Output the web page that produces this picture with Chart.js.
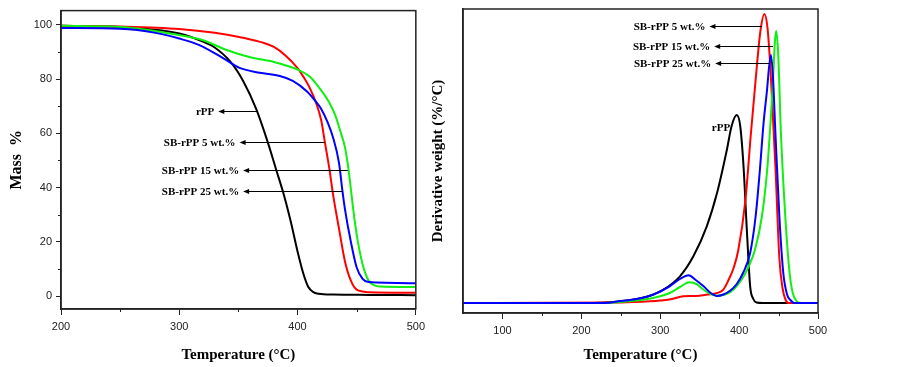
<!DOCTYPE html>
<html>
<head>
<meta charset="utf-8">
<title>TGA / DTG of rPP and SB-rPP</title>
<script src="https://cdn.jsdelivr.net/npm/chart.js@4.4.1/dist/chart.umd.min.js"></script>
<style>
  html, body { margin: 0; padding: 0; background: #fff; }
  #wrap { position: relative; width: 902px; height: 367px; overflow: hidden; }
  #tga { position: absolute; left: 0; top: 0; }
  #dtg { position: absolute; left: 430px; top: 0; }
</style>
</head>
<body>
<div id="wrap">
  <canvas id="tga" width="430" height="367"></canvas>
  <canvas id="dtg" width="472" height="367"></canvas>
</div>
<script>
// series names (same order in both panels)
const seriesNames = ['rPP', 'SB-rPP 5 wt.%', 'SB-rPP 15 wt.%', 'SB-rPP 25 wt.%'];
const seriesColors = ['#000000', '#ff0000', '#11ee11', '#0000ff'];

// ---- left panel: TGA, mass % vs temperature ----
const tgaTempRpp = [200, 250, 300, 320, 329, 343, 354, 365, 375, 382, 388, 394, 400, 405, 409, 413, 418, 430, 460, 500];
const tgaMassRpp = [99.6, 99.2, 96.8, 93.8, 91.9, 86.5, 79.3, 69, 56.5, 46.5, 38, 28, 16.5, 8.2, 3.5, 1.6, 0.9, 0.6, 0.5, 0.4];

const tgaTemp5 = [200, 250, 300, 330, 357, 370, 380, 390, 400, 405, 410, 416, 420, 423, 427, 430, 435, 440, 445, 450, 460, 500];
const tgaMass5 = [99.6, 99.3, 98.4, 97, 94.9, 93.5, 91.8, 88.6, 84, 80.8, 77, 70.8, 64.8, 57, 46.7, 37.5, 25, 13, 5.8, 2.4, 1.5, 1.3];

const tgaTemp15 = [200, 250, 300, 320, 340, 360, 380, 400, 410, 420, 427, 432, 436, 440, 443, 447, 450, 455, 460, 465, 470, 500];
const tgaMass15 = [99.6, 99.2, 96.2, 94.3, 90.7, 88, 86.3, 83.5, 81, 75.8, 71.2, 66.5, 61, 55, 47, 32.3, 22.7, 11.8, 5.8, 4, 3.6, 3.4];

const tgaTemp25 = [200, 250, 280, 300, 317, 337, 351, 368, 385, 396, 408, 416, 420, 425, 430, 435, 438, 440, 445, 450, 455, 460, 500];
const tgaMass25 = [98.8, 98.5, 97, 94.9, 92.5, 87.7, 84.1, 82.3, 81.1, 79.3, 75.4, 71.4, 69, 64.5, 58.5, 49.2, 38.6, 32.3, 20.2, 10.6, 6.4, 5.2, 4.8];

const tgaXTicks = [200, 300, 400, 500];
const tgaXMinor = [250, 350, 450];
const tgaYTicks = [0, 20, 40, 60, 80, 100];
const tgaYMinor = [10, 30, 50, 70, 90];

// ---- right panel: DTG, derivative weight vs temperature ----
const dtgTempRpp = [50, 200, 230, 250, 270, 287, 304, 325, 342, 359, 372, 384.5, 390.5, 397, 401.4, 405.6, 410, 414, 418, 422, 430, 500];
const dtgRateRpp = [0, 0, 0.005, 0.017, 0.04, 0.073, 0.133, 0.267, 0.467, 0.767, 1.1, 1.533, 1.77, 1.88, 1.77, 1.367, 0.7, 0.167, 0.04, 0.005, 0, 0];

const dtgTemp5 = [50, 250, 287, 300, 315, 329, 345, 360, 372, 380, 386, 393, 399, 408, 415, 422.5, 427, 432, 436, 440, 446, 451, 455, 459, 463, 500];
const dtgRate5 = [0, 0.005, 0.017, 0.025, 0.04, 0.067, 0.07, 0.085, 0.1, 0.133, 0.22, 0.35, 0.53, 1.03, 1.7, 2.37, 2.72, 2.89, 2.75, 2.3, 1.37, 0.45, 0.15, 0.03, 0, 0];

const dtgTemp15 = [50, 230, 250, 270, 291, 312, 325, 337, 346, 355, 364, 372, 380, 389, 398, 406, 414, 420, 429, 436, 441.6, 447, 449.5, 453, 458.5, 464, 468, 473, 478, 500];
const dtgRate15 = [0, 0, 0.01, 0.025, 0.05, 0.1, 0.16, 0.207, 0.19, 0.133, 0.09, 0.073, 0.08, 0.11, 0.18, 0.27, 0.4, 0.53, 0.87, 1.37, 2.03, 2.72, 2.5, 1.7, 0.87, 0.3, 0.1, 0.017, 0, 0];

const dtgTemp25 = [50, 230, 250, 270, 291, 312, 325, 336, 345, 355, 364, 372, 380, 389, 397, 405, 414, 421, 426, 431, 435, 440.3, 443, 446, 451, 456, 461, 465, 470, 500];
const dtgRate25 = [0, 0, 0.02, 0.04, 0.083, 0.167, 0.24, 0.277, 0.23, 0.167, 0.1, 0.07, 0.085, 0.125, 0.19, 0.3, 0.5, 0.87, 1.3, 1.8, 2.1, 2.48, 2.25, 1.7, 0.87, 0.3, 0.08, 0.03, 0, 0];

const dtgXTicks = [100, 200, 300, 400, 500];
const dtgXMinor = [150, 250, 350, 450];

// label + arrow callouts (data coordinates)
const tgaNotes = [
  { text: seriesNames[0], y: 68.3, from: 366.5, to: 333 },
  { text: seriesNames[1], y: 56.7, from: 423, to: 351 },
  { text: seriesNames[2], y: 46.6, from: 442.5, to: 354 },
  { text: seriesNames[3], y: 38.7, from: 438.3, to: 354 }
];
const dtgNotes = [
  { text: seriesNames[1], y: 2.766, from: 428.9, to: 362.4 },
  { text: seriesNames[2], y: 2.566, from: 442.9, to: 368.4 },
  { text: seriesNames[3], y: 2.40, from: 438.6, to: 369.7 },
  { text: seriesNames[0], y: 1.75, at: 377 }
];

const AXIS = '#222';
const SANS = '"Liberation Sans", Arial, sans-serif';
const SERIF = '"Liberation Serif", "Times New Roman", serif';

function pts(xs, ys) {
  return xs.map((x, i) => ({ x: x, y: ys[i] }));
}

function makeSets(pairs) {
  return pairs.map((p, i) => ({
    label: seriesNames[i],
    data: pts(p[0], p[1]),
    borderColor: seriesColors[i],
    borderWidth: 2,
    pointRadius: 0,
    fill: false,
    cubicInterpolationMode: 'monotone',
    order: 3 - i
  }));
}

// box round the plot area
const framePlugin = {
  id: 'frame',
  afterDraw(chart) {
    const { ctx, chartArea: a } = chart;
    ctx.save();
    ctx.strokeStyle = AXIS;
    ctx.lineWidth = 1.5;
    ctx.strokeRect(a.left, a.top, a.right - a.left, a.bottom - a.top);
    ctx.restore();
  }
};

// short unlabeled ticks between the labeled ones
const minorTickPlugin = {
  id: 'minorTicks',
  afterDraw(chart, args, opts) {
    const { ctx, chartArea: a, scales } = chart;
    ctx.save();
    ctx.strokeStyle = AXIS;
    ctx.lineWidth = 1;
    (opts.x || []).forEach(v => {
      const px = Math.round(scales.x.getPixelForValue(v)) + 0.5;
      ctx.beginPath();
      ctx.moveTo(px, a.bottom);
      ctx.lineTo(px, a.bottom + opts.len);
      ctx.stroke();
    });
    (opts.y || []).forEach(v => {
      const py = Math.round(scales.y.getPixelForValue(v)) + 0.5;
      ctx.beginPath();
      ctx.moveTo(a.left, py);
      ctx.lineTo(a.left - opts.len, py);
      ctx.stroke();
    });
    ctx.restore();
  }
};

// series labels with arrows pointing at the curves
const notePlugin = {
  id: 'notes',
  afterDatasetsDraw(chart, args, opts) {
    const { ctx, scales } = chart;
    ctx.save();
    ctx.font = 'bold 11px ' + SERIF;
    ctx.fillStyle = '#000';
    ctx.strokeStyle = '#000';
    ctx.lineWidth = 1;
    ctx.textBaseline = 'middle';
    (opts.items || []).forEach(n => {
      const py = Math.round(scales.y.getPixelForValue(n.y)) + 0.5;
      if (n.from === undefined) {
        ctx.textAlign = 'center';
        ctx.fillText(n.text, scales.x.getPixelForValue(n.at), py);
        return;
      }
      const tail = scales.x.getPixelForValue(n.from);
      const tip = scales.x.getPixelForValue(n.to);
      ctx.beginPath();
      ctx.moveTo(tail, py);
      ctx.lineTo(tip + 4, py);
      ctx.stroke();
      ctx.beginPath();
      ctx.moveTo(tip, py);
      ctx.lineTo(tip + 6, py - 2.5);
      ctx.lineTo(tip + 6, py + 2.5);
      ctx.closePath();
      ctx.fill();
      ctx.textAlign = 'right';
      ctx.fillText(n.text, tip - 4, py + 1);
    });
    ctx.restore();
  }
};

function xAxis(min, max, ticks, height, titleText) {
  return {
    type: 'linear',
    min: min,
    max: max,
    afterBuildTicks: s => { s.ticks = ticks.map(v => ({ value: v })); },
    afterFit: s => { s.height = height; },
    ticks: { font: { family: SANS, size: 11 }, color: AXIS, padding: 5, maxRotation: 0 },
    grid: { drawOnChartArea: false, tickLength: 6, tickColor: AXIS, tickWidth: 1 },
    border: { color: AXIS, width: 1.5 },
    title: {
      display: true,
      text: titleText,
      color: '#000',
      font: { family: SERIF, size: 15, weight: 'bold' },
      padding: { top: 0, bottom: 3 }
    }
  };
}

function baseOptions(padding, scales, minor, notes) {
  return {
    responsive: false,
    maintainAspectRatio: false,
    animation: false,
    devicePixelRatio: 1,
    events: [],
    layout: { padding: padding },
    scales: scales,
    plugins: {
      legend: { display: false },
      tooltip: { enabled: false },
      minorTicks: minor,
      notes: { items: notes }
    }
  };
}

new Chart(document.getElementById('tga'), {
  type: 'line',
  data: {
    datasets: makeSets([
      [tgaTempRpp, tgaMassRpp],
      [tgaTemp5, tgaMass5],
      [tgaTemp15, tgaMass15],
      [tgaTemp25, tgaMass25]
    ])
  },
  options: baseOptions(
    { left: 0, top: 5, right: 14, bottom: 0 },
    {
      x: xAxis(200, 500, tgaXTicks, 58, 'Temperature (\u00B0C)'),
      y: {
        type: 'linear',
        min: -4.7,
        max: 105.2,
        afterBuildTicks: s => { s.ticks = tgaYTicks.map(v => ({ value: v })); },
        afterFit: s => { s.width = 61; },
        ticks: { font: { family: SANS, size: 11 }, color: AXIS, padding: 4 },
        grid: { drawOnChartArea: false, tickLength: 5, tickColor: AXIS, tickWidth: 1 },
        border: { color: AXIS, width: 1.5 },
        title: {
          display: true,
          text: 'Mass  %',
          color: '#000',
          font: { family: SERIF, size: 16, weight: 'bold' },
          padding: { top: 7, bottom: 0 }
        }
      }
    },
    { x: tgaXMinor, y: tgaYMinor, len: 3 },
    tgaNotes
  ),
  plugins: [framePlugin, minorTickPlugin, notePlugin]
});

new Chart(document.getElementById('dtg'), {
  type: 'line',
  data: {
    datasets: makeSets([
      [dtgTempRpp, dtgRateRpp],
      [dtgTemp5, dtgRate5],
      [dtgTemp15, dtgRate15],
      [dtgTemp25, dtgRate25]
    ])
  },
  options: baseOptions(
    { left: 0, top: 9, right: 84, bottom: 0 },
    {
      x: xAxis(50, 500, dtgXTicks, 54, 'Temperature (\u00B0C)'),
      y: {
        type: 'linear',
        min: -0.1,
        max: 2.94,
        afterFit: s => { s.width = 33; },
        ticks: { display: false },
        grid: { display: false },
        border: { color: AXIS, width: 1.5 },
        title: {
          display: true,
          text: 'Derivative weight (%/\u00B0C)',
          color: '#000',
          font: { family: SERIF, size: 15, weight: 'bold', lineHeight: 1 },
          padding: { top: 1, bottom: 0 }
        }
      }
    },
    { x: dtgXMinor, len: 3 },
    dtgNotes
  ),
  plugins: [framePlugin, minorTickPlugin, notePlugin]
});
</script>
</body>
</html>
